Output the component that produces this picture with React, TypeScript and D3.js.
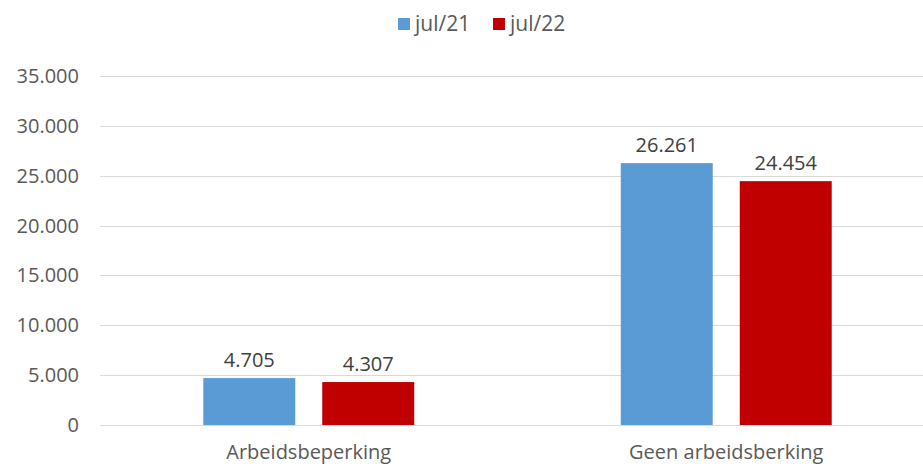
import * as d3 from 'd3';
import React, { useEffect, useRef } from 'react';

const categories = ['Arbeidsbeperking', 'Geen arbeidsberking'];
const seriesNames = ['jul/21', 'jul/22'];
const jul21 = [4705, 26261];
const jul22 = [4307, 24454];
const yTicks = [0, 5000, 10000, 15000, 20000, 25000, 30000, 35000];
const colors = ['#5B9BD5', '#C00000'];

const W = 923;
const H = 469;
const FONT = '"Open Sans", sans-serif';
const TEXT = '#595959';
const FS = 20;

const fmt = (v: number) => d3.format(',')(v).replace(/,/g, '.');

export default function App() {
  const ref = useRef<SVGSVGElement>(null);

  useEffect(() => {
    drawChart();
  }, []);

  function drawChart() {
    const svg = d3.select(ref.current);
    svg.selectAll('*').remove();

    const yScale = d3.scaleLinear().domain([0, 35000]).range([425, 76]);
    const x0 = d3.scaleBand().domain(categories).range([100, 935]);
    const x1 = d3
      .scaleBand()
      .domain(seriesNames)
      .range([0, x0.bandwidth()])
      .paddingInner(0.227)
      .paddingOuter(0.868);

    // gridlines + y labels
    const grid = svg.append('g');
    grid
      .selectAll('line')
      .data(yTicks)
      .join('line')
      .attr('x1', 100)
      .attr('x2', W)
      .attr('y1', (d) => Math.round(yScale(d)) + 0.5)
      .attr('y2', (d) => Math.round(yScale(d)) + 0.5)
      .attr('stroke', '#D9D9D9')
      .attr('stroke-width', 1);
    grid
      .selectAll('text')
      .data(yTicks)
      .join('text')
      .attr('x', 79)
      .attr('y', (d) => yScale(d) + 7)
      .attr('text-anchor', 'end')
      .attr('font-family', FONT)
      .attr('font-size', FS)
      .attr('fill', TEXT)
      .text((d) => fmt(d));

    const values = [jul21, jul22];

    // bars
    seriesNames.forEach((s, si) => {
      const g = svg.append('g');
      g.selectAll('rect')
        .data(categories)
        .join('rect')
        .attr('x', (c) => (x0(c) as number) + (x1(s) as number))
        .attr('y', (c, i) => yScale(values[si][i]))
        .attr('width', x1.bandwidth())
        .attr('height', (c, i) => yScale(0) - yScale(values[si][i]))
        .attr('fill', colors[si]);
      g.selectAll('text')
        .data(categories)
        .join('text')
        .attr('x', (c) => (x0(c) as number) + (x1(s) as number) + x1.bandwidth() / 2)
        .attr('y', (c, i) => yScale(values[si][i]) - 11)
        .attr('text-anchor', 'middle')
        .attr('font-family', FONT)
        .attr('font-size', FS)
        .attr('fill', '#404040')
        .text((c, i) => fmt(values[si][i]));
    });

    // category labels
    svg
      .append('g')
      .selectAll('text')
      .data(categories)
      .join('text')
      .attr('x', (c) => (x0(c) as number) + x0.bandwidth() / 2)
      .attr('y', 459)
      .attr('text-anchor', 'middle')
      .attr('font-family', FONT)
      .attr('font-size', FS)
      .attr('fill', TEXT)
      .text((c) => c);

    // legend
    const legendX = [398, 493];
    const legend = svg.append('g');
    seriesNames.forEach((s, i) => {
      legend
        .append('rect')
        .attr('x', legendX[i])
        .attr('y', 18)
        .attr('width', 12)
        .attr('height', 12)
        .attr('fill', colors[i]);
      legend
        .append('text')
        .attr('x', legendX[i] + 17)
        .attr('y', 31)
        .attr('font-family', FONT)
        .attr('font-size', 21)
        .attr('fill', TEXT)
        .text(s);
    });
  }

  return (
    <svg
      ref={ref}
      width={W}
      height={H}
      style={{ position: 'absolute', left: 0, top: 0, background: '#fff' }}
    />
  );
}
